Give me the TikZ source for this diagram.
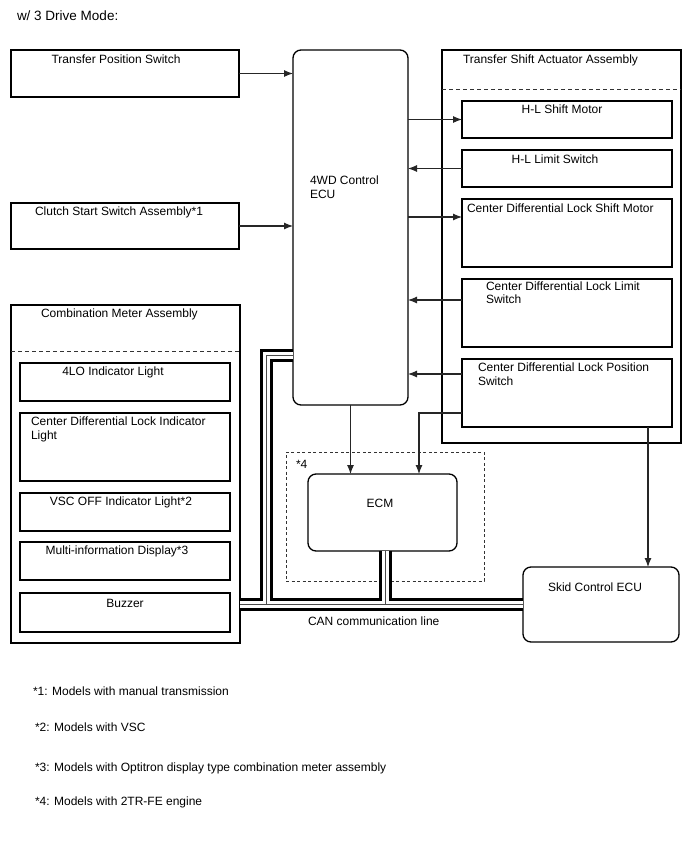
\documentclass[tikz,border=0pt]{standalone}
\usepackage{fontspec}
\setmainfont{Liberation Sans}
\usetikzlibrary{arrows.meta}
\begin{document}
\begin{tikzpicture}[x=1pt,y=-1pt,
  box/.style={draw=black,line width=1.3pt,anchor=north west,inner sep=0,outer sep=0},
  rbox/.style={box,rounded corners=8pt},
  txt/.style={inner sep=0,outer sep=0,font=\fontsize{12}{14}\selectfont},
  lt/.style={txt,anchor=base west},
  ct/.style={txt,anchor=base},
  arr/.style={line width=1.1pt,draw=black!85,-{Latex[length=9pt,width=7pt]}},
  sep/.style={line width=0.8pt,dash pattern=on 4pt off 3pt,draw=black!80},
  grp/.style={draw=black!80,line width=1pt,dash pattern=on 3pt off 2.5pt,anchor=north west,inner sep=0,outer sep=0},
  busA/.style={line width=13pt,black},
  busB/.style={line width=7pt,white},
  busC/.style={line width=1pt,black!70},
]
\useasboundingbox (0,0) rectangle (688,852);

% boxes
\node[box,minimum width=228pt,minimum height=47pt] (tps) at (11,50) {};
\node[box,minimum width=228pt,minimum height=46pt] (clutch) at (11,203) {};
\node[rbox,minimum width=115pt,minimum height=355pt] (ecu) at (293,50) {};
\node[box,minimum width=229pt,minimum height=338pt] (meter) at (11,305) {};
\node[box,minimum width=210pt,minimum height=38pt] (m1) at (20,363) {};
\node[box,minimum width=210pt,minimum height=68pt] (m2) at (20,413) {};
\node[box,minimum width=210pt,minimum height=38pt] (m3) at (20,493) {};
\node[box,minimum width=210pt,minimum height=38pt] (m4) at (20,542) {};
\node[box,minimum width=210pt,minimum height=39pt] (m5) at (20,593) {};
\node[box,minimum width=239pt,minimum height=393pt] (act) at (442,50) {};
\node[box,minimum width=210pt,minimum height=37pt] (a1) at (462,101) {};
\node[box,minimum width=210pt,minimum height=37pt] (a2) at (462,150) {};
\node[box,minimum width=210pt,minimum height=68pt] (a3) at (462,199) {};
\node[box,minimum width=210pt,minimum height=68pt] (a4) at (462,279) {};
\node[box,minimum width=210pt,minimum height=68pt] (a5) at (462,359) {};
\node[grp,minimum width=198pt,minimum height=129pt] (g4) at (286,452) {};
\node[rbox,minimum width=149pt,minimum height=77pt] (ecm) at (308,474) {};
\node[rbox,minimum width=156pt,minimum height=75pt] (skid) at (523,567) {};

% dashed separators
\draw[sep] ([yshift=-46pt]meter.north west) -- ([yshift=-46pt]meter.north east);
\draw[sep] ([yshift=-39pt]act.north west) -- ([yshift=-39pt]act.north east);

% arrows
\draw[arr] (tps.east) -- (tps.east -| ecu.west);
\draw[arr] (clutch.east) -- (clutch.east -| ecu.west);
\draw[arr] (a1.west -| ecu.east) -- (a1.west);
\draw[arr] (a2.west) -- (a2.west -| ecu.east);
\coordinate (a3p) at ([yshift=-18pt]a3.north west);
\draw[arr] (a3p -| ecu.east) -- (a3p);
\coordinate (a4p) at ([yshift=-21pt]a4.north west);
\draw[arr] (a4p) -- (a4p -| ecu.east);
\coordinate (a5p) at ([yshift=-15pt]a5.north west);
\draw[arr] (a5p) -- (a5p -| ecu.east);
\draw[arr] (ecu.south) -- (ecu.south |- ecm.north);
\coordinate (a5q) at ([yshift=-54pt]a5.north west);
\coordinate (ecmin) at ([xshift=111pt]ecm.north west);
\draw[arr] (a5q) -| (ecmin);
\coordinate (a5r) at ([xshift=-24pt]a5.south east);
\draw[arr] (a5r) -- (a5r |- skid.north);

% CAN bus
\coordinate (b1) at ([yshift=-305pt]ecu.north west);
\coordinate (b2) at (266,355);
\coordinate (b3) at (266,604);
\coordinate (b4) at ([yshift=-299pt]meter.north east);
\coordinate (b5) at ([yshift=-37pt]skid.north west);
\coordinate (b6) at ([xshift=77pt]ecm.south west);
\coordinate (b7) at (385,604);
\foreach \s in {busA,busB,busC}{
  \draw[\s] (b1) -- (b2) -- (b3);
  \draw[\s] (b4) -- (b5);
  \draw[\s] (b6) -- (b7);
}

% texts
\node[lt,font=\fontsize{13.5}{16}\selectfont] (title) at (17,20) {w/ 3 Drive Mode:};
\node[ct] (tpsT) at (116,63) {Transfer Position Switch};
\node[lt] (clutchT) at (35,215) {Clutch Start Switch Assembly*1};
\node[lt] (ecuT1) at (310,184) {4WD Control};
\node[lt] (ecuT2) at (310,198) {ECU};
\node[lt] (meterT) at (41,317) {Combination Meter Assembly};
\node[ct] (m1T) at (113,375) {4LO Indicator Light};
\node[lt] (m2T1) at (31,425) {Center Differential Lock Indicator};
\node[lt] (m2T2) at (31,439) {Light};
\node[ct] (m3T) at (121,505) {VSC OFF Indicator Light*2};
\node[ct] (m4T) at (117,554) {Multi-information Display*3};
\node[ct] (m5T) at (125,607) {Buzzer};
\node[lt] (actT) at (463,63) {Transfer Shift Actuator Assembly};
\node[ct] (a1T) at (562,113) {H-L Shift Motor};
\node[ct] (a2T) at (555,163) {H-L Limit Switch};
\node[lt] (a3T) at (467,212) {Center Differential Lock Shift Motor};
\node[lt] (a4T1) at (486,290) {Center Differential Lock Limit};
\node[lt] (a4T2) at (486,303) {Switch};
\node[lt] (a5T1) at (478,371) {Center Differential Lock Position};
\node[lt] (a5T2) at (478,385) {Switch};
\node[lt] (g4T) at (296,468) {*4};
\node[ct] (ecmT) at (380,507) {ECM};
\node[lt] (skidT) at (548,591) {Skid Control ECU};
\node[lt] (canT) at (308,625) {CAN communication line};
\node[lt] (f1) at (33,695) {*1: Models with manual transmission};
\node[lt] (f2) at (35,731) {*2: Models with VSC};
\node[lt] (f3) at (35,771) {*3: Models with Optitron display type combination meter assembly};
\node[lt] (f4) at (35,805) {*4: Models with 2TR-FE engine};
\end{tikzpicture}
\end{document}
